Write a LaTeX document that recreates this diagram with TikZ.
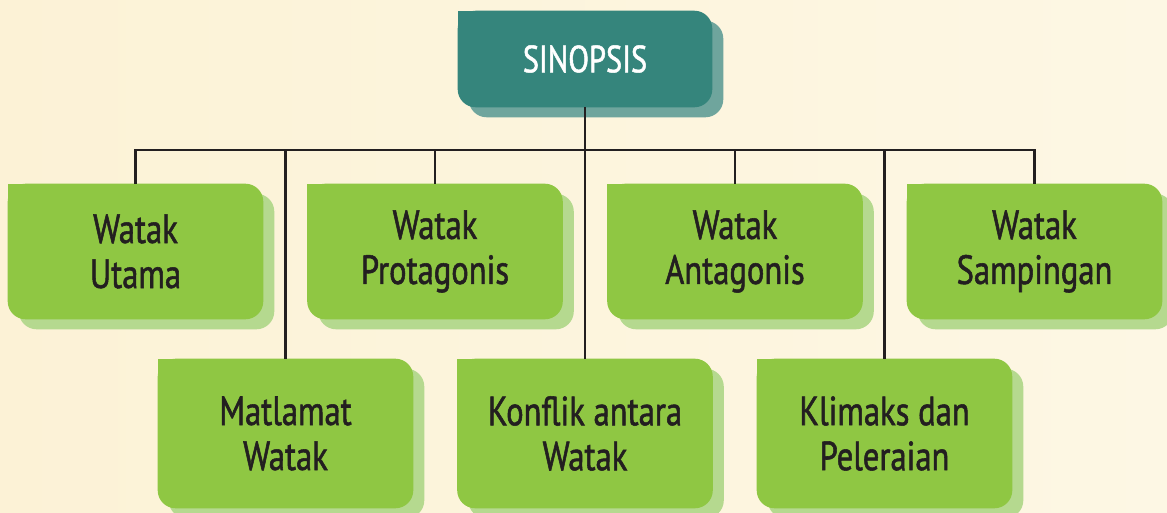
\documentclass[tikz,border=0pt]{standalone}
\usepackage{fontspec}
\setmainfont[FakeStretch=0.8, RawFeature={embolden=1.3}]{PT Sans}
\usepackage{tikz}
\usetikzlibrary{backgrounds}
\definecolor{krim}{RGB}{253,247,228}
\definecolor{krimtua}{RGB}{252,242,214}
\definecolor{teal1}{RGB}{53,133,124}
\definecolor{teal2}{RGB}{111,165,157}
\definecolor{hijau1}{RGB}{143,199,67}
\definecolor{hijau2}{RGB}{181,217,143}
\definecolor{teks}{RGB}{35,31,32}

\begin{document}
\begin{tikzpicture}[x=0.025cm, y=-0.025cm,
  kotak/.style={minimum width=6.375cm, minimum height=3.375cm, inner sep=0pt,
    align=center, text=teks, font=\fontsize{29}{32}\selectfont},
  kotakbawah/.style={kotak, minimum height=3.725cm},
  akar/.style={kotak, minimum width=6.35cm, minimum height=2.4cm,
    text=white, font=\fontsize{27}{30}\selectfont},
  garis/.style={line width=1.8pt, teks}]
  \useasboundingbox (0,0) rectangle (1167,513);

  \node[akar] (sinopsis) at (585,59) {SINOPSIS};

  % baris atas
  \node[kotak] (utama)      at (135.5,251.5) {Watak\\Utama};
  \node[kotak] (protagonis) at (435,251.5)   {Watak\\Protagonis};
  \node[kotak] (antagonis)  at (735,251.5)   {Watak\\Antagonis};
  \node[kotak] (sampingan)  at (1034.5,251.5) {Watak\\Sampingan};

  % baris bawah
  \node[kotakbawah] (matlamat) at (285.5,433.5) {Matlamat\\Watak};
  \node[kotakbawah] (konflik)  at (585,433.5)   {Konflik antara\\Watak};
  \node[kotakbawah] (klimaks)  at (884.5,433.5) {Klimaks dan\\Peleraian};

  \coordinate (bus) at (585,150);
  \draw[garis] (sinopsis.south) -- (bus);
  \draw[garis] (utama.north) |- (bus) -| (sampingan.north);
  \foreach \n in {matlamat, protagonis, konflik, antagonis, klimaks}
    \draw[garis] (\n.north |- bus) -- (\n.north);

  \begin{scope}[on background layer]
    \shade[left color=krimtua, right color=krim] (0,0) rectangle (1167,513);
    \foreach \n/\warna/\bayang in {sinopsis/teal1/teal2, utama/hijau1/hijau2,
        protagonis/hijau1/hijau2, antagonis/hijau1/hijau2, sampingan/hijau1/hijau2,
        matlamat/hijau1/hijau2, konflik/hijau1/hijau2, klimaks/hijau1/hijau2} {
      \fill[\bayang, rounded corners=0.45cm]
        ([shift={(11,10)}]\n.north west) rectangle ([shift={(11,10)}]\n.south east);
      \fill[\warna, rounded corners=0.45cm] (\n.north west) rectangle (\n.south east);
      \fill[\warna] (\n.north west) rectangle ([shift={(20,20)}]\n.north west);
    }
  \end{scope}
\end{tikzpicture}
\end{document}
